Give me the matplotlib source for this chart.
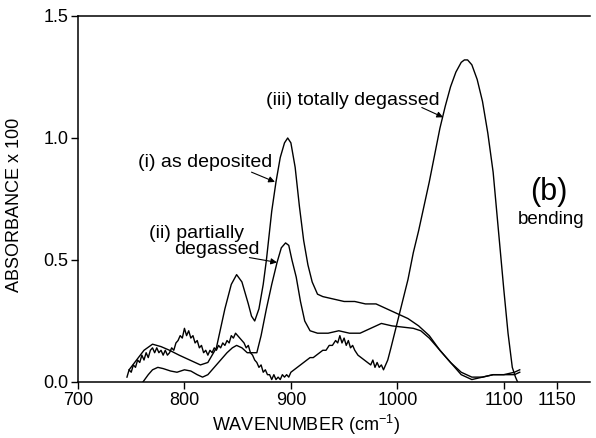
import matplotlib
matplotlib.use("Agg")
import matplotlib.pyplot as plt

plt.rcParams['font.family'] = ['Liberation Sans', 'DejaVu Sans']
plt.rcParams['mathtext.default'] = 'regular'

# (i) as deposited
wn_dep = [748, 755, 762, 770, 778, 786, 795, 805, 815, 822, 830, 838, 844, 849,
          854, 860, 863, 866, 870, 874, 877, 882, 886, 890, 894, 897, 900, 904,
          908, 912, 916, 920, 925, 930, 940, 950, 960, 970, 980, 990, 1000, 1010,
          1020, 1030, 1040, 1050, 1060, 1070, 1080, 1090, 1100, 1110, 1115]
abs_dep = [0.05, 0.09, 0.13, 0.155, 0.145, 0.13, 0.11, 0.09, 0.07, 0.08, 0.14,
           0.30, 0.40, 0.44, 0.41, 0.32, 0.27, 0.25, 0.30, 0.40, 0.50, 0.70,
           0.82, 0.92, 0.98, 1.00, 0.98, 0.88, 0.72, 0.58, 0.48, 0.41, 0.36,
           0.35, 0.34, 0.33, 0.33, 0.32, 0.32, 0.30, 0.28, 0.26, 0.23, 0.19,
           0.13, 0.08, 0.04, 0.02, 0.02, 0.03, 0.03, 0.03, 0.04]

# (ii) partially degassed
wn_part = [761, 766, 770, 775, 780, 787, 793, 800, 806, 812, 817, 822, 828, 834,
           840, 845, 849, 854, 859, 864, 868, 872, 877, 882, 887, 891, 895, 898,
           901, 905, 909, 913, 918, 925, 935, 945, 955, 965, 975, 985, 995, 1005,
           1015, 1022, 1030, 1040, 1050, 1060, 1070, 1080, 1090, 1100, 1110, 1115]
abs_part = [0.0, 0.03, 0.05, 0.06, 0.055, 0.045, 0.04, 0.05, 0.045, 0.03, 0.02,
            0.03, 0.06, 0.09, 0.12, 0.14, 0.15, 0.14, 0.12, 0.12, 0.12, 0.19,
            0.30, 0.40, 0.49, 0.55, 0.57, 0.56, 0.50, 0.43, 0.33, 0.25, 0.21,
            0.20, 0.20, 0.21, 0.20, 0.20, 0.22, 0.24, 0.23, 0.225, 0.22, 0.21,
            0.18, 0.13, 0.08, 0.03, 0.01, 0.02, 0.03, 0.03, 0.04, 0.05]

# (iii) totally degassed (noisy at low wavenumber)
wn_tot = [746, 748, 750, 752, 754, 756, 758, 760, 762, 764, 766, 768, 770, 772,
          774, 776, 778, 780, 782, 784, 786, 788, 790, 792, 794, 796, 798, 800,
          802, 804, 806, 808, 810, 812, 814, 816, 818, 820, 822, 824, 826, 828,
          830, 832, 834, 836, 838, 840, 842, 844, 846, 848, 850, 852, 854, 856,
          858, 860, 862, 864, 866, 868, 870, 872, 874, 876, 878, 880, 882, 884,
          886, 888, 890, 892, 894, 896, 898, 900, 903, 906, 909, 912, 915, 918,
          921, 924, 927, 930, 933, 936, 939, 942, 944, 946, 948, 950, 952, 954,
          956, 958, 960, 963, 966, 969, 972, 975, 977, 979, 981, 983, 985, 987,
          989, 991, 994, 998, 1002, 1006, 1010, 1015, 1020, 1025, 1030, 1035,
          1040, 1045, 1050, 1055, 1060, 1063, 1066, 1070, 1075, 1080, 1085, 1090,
          1095, 1100, 1104, 1108, 1111, 1113]
abs_tot = [0.02, 0.05, 0.04, 0.07, 0.06, 0.09, 0.08, 0.11, 0.09, 0.12, 0.10,
           0.13, 0.14, 0.12, 0.14, 0.12, 0.13, 0.11, 0.13, 0.11, 0.12, 0.14,
           0.13, 0.16, 0.17, 0.19, 0.18, 0.22, 0.19, 0.21, 0.18, 0.19, 0.16,
           0.17, 0.14, 0.15, 0.12, 0.13, 0.11, 0.13, 0.12, 0.14, 0.13, 0.15,
           0.14, 0.16, 0.15, 0.17, 0.16, 0.19, 0.18, 0.20, 0.19, 0.18, 0.17,
           0.16, 0.14, 0.15, 0.12, 0.11, 0.09, 0.08, 0.06, 0.07, 0.04, 0.05,
           0.03, 0.03, 0.01, 0.03, 0.01, 0.02, 0.01, 0.03, 0.02, 0.03, 0.02,
           0.04, 0.05, 0.06, 0.07, 0.08, 0.09, 0.10, 0.10, 0.11, 0.12, 0.13,
           0.13, 0.15, 0.15, 0.17, 0.16, 0.19, 0.16, 0.18, 0.15, 0.17, 0.14,
           0.15, 0.13, 0.11, 0.10, 0.09, 0.08, 0.07, 0.09, 0.06, 0.08, 0.06,
           0.07, 0.05, 0.07, 0.09, 0.14, 0.21, 0.28, 0.35, 0.42, 0.53, 0.62,
           0.72, 0.82, 0.93, 1.04, 1.13, 1.21, 1.27, 1.31, 1.32, 1.32, 1.30,
           1.24, 1.15, 1.02, 0.86, 0.62, 0.38, 0.20, 0.06, 0.02, 0.0]

xticks = [700, 800, 900, 1000, 1100, 1150]
yticks = [0.0, 0.5, 1.0, 1.5]

fig = plt.figure(figsize=(5.96, 4.38), dpi=100)
ax = fig.add_axes([78/596, 1 - 382/438, 512/596, 366/438])

for wn, a in [(wn_dep, abs_dep), (wn_part, abs_part), (wn_tot, abs_tot)]:
    ax.plot(wn, a, color='black', lw=1.0)

ax.set_xlim(700, 1181)
ax.set_ylim(0, 1.5)
ax.set_xticks(xticks)
ax.set_xticklabels([str(t) for t in xticks])
ax.set_yticks(yticks)
ax.set_yticklabels(['%.1f' % t for t in yticks])
ax.tick_params(direction='out', length=5, width=1, labelsize=13, pad=2)
ax.spines['right'].set_visible(False)
for s in ['left', 'bottom', 'top']:
    ax.spines[s].set_linewidth(1.1)

ax.set_xlabel('WAVENUMBER (cm$^{-1}$)', fontsize=13, labelpad=4)
ax.xaxis.set_label_coords(0.445, -0.085)
ax.set_ylabel('ABSORBANCE x 100', fontsize=13, labelpad=6)
ax.yaxis.set_label_coords(-0.108, 0.485)

arrow = dict(arrowstyle='-|>', lw=0.8, color='black', mutation_scale=9,
             shrinkA=0, shrinkB=0)
ax.annotate('', xy=(1043, 1.085), xytext=(1023, 1.125), arrowprops=arrow)
ax.text(958, 1.155, '(iii) totally degassed', fontsize=14, ha='center', va='center')

ax.annotate('', xy=(885, 0.82), xytext=(863, 0.86), arrowprops=arrow)
ax.text(819, 0.90, '(i) as deposited', fontsize=14, ha='center', va='center')

ax.annotate('', xy=(887, 0.49), xytext=(861, 0.51), arrowprops=arrow)
ax.text(811, 0.61, '(ii) partially', fontsize=14, ha='center', va='center')
ax.text(830, 0.545, 'degassed', fontsize=14, ha='center', va='center')

ax.text(1142, 0.78, '(b)', fontsize=22, ha='center', va='center')
ax.text(1144, 0.667, 'bending', fontsize=13.5, ha='center', va='center')

plt.savefig('out.png', dpi=100)
